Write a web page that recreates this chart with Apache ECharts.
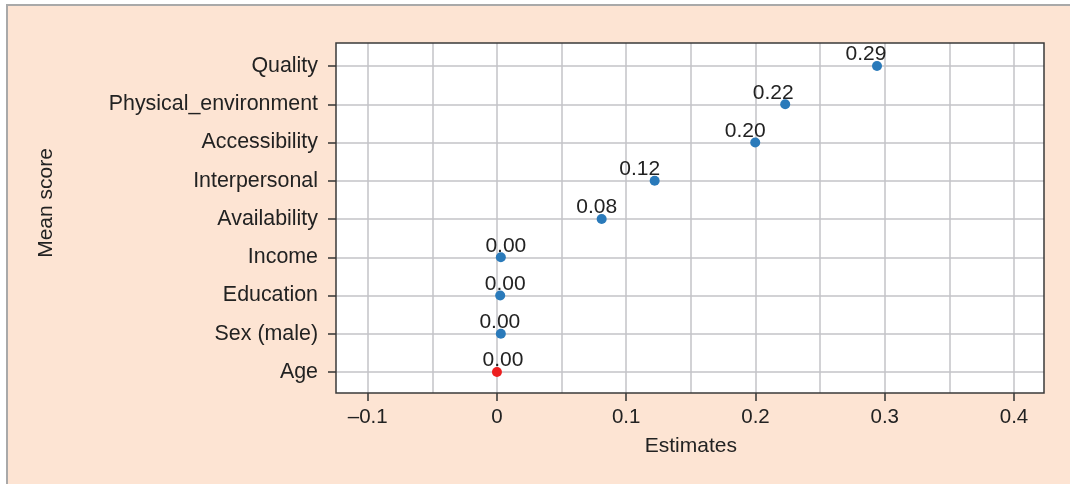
<!DOCTYPE html>
<html>
<head>
<meta charset="utf-8">
<script src="https://cdn.jsdelivr.net/npm/echarts@6/dist/echarts.min.js"></script>
<style>
  html, body { margin: 0; padding: 0; background: #ffffff; }
  #wrap { position: relative; width: 1070px; height: 484px; overflow: hidden; background: #ffffff; }
  #panel {
    position: absolute; left: 6px; top: 4px; right: -4px; bottom: -4px;
    background: #fde4d3; border-left: 2px solid #a9a9a9; border-top: 2px solid #a9a9a9;
  }
  #chart { position: absolute; left: 0; top: 0; width: 1070px; height: 484px; }
</style>
</head>
<body>
<div id="wrap">
  <div id="panel"></div>
  <div id="chart"></div>
</div>
<script>
// Predictors, listed bottom to top
const categories = ['Age', 'Sex (male)', 'Education', 'Income', 'Availability',
                    'Interpersonal', 'Accessibility', 'Physical_environment', 'Quality'];
// Coefficient estimates
const estimates = [0.000, 0.003, 0.0025, 0.003, 0.081, 0.122, 0.1998, 0.223, 0.294];
// The reference predictor drawn in red
const highlighted = ['Age'];
// X tick range and step
const xTickMin = -0.1;
const xTickMax = 0.4;
const xTickStep = 0.1;
// Horizontal nudges that keep the value labels from colliding
const labelShiftX = [6, -1, 5, 5, -5, -15, -10, -12, -11];

const FONT = "'Liberation Sans', Arial, Helvetica, sans-serif";
const TEXT = '#222222';
const GRIDLINE = { color: '#c3c3c7', width: 1.5 };
const TICK = { color: '#333333', width: 1.5 };

// Plot frame and the inner band the categories occupy
const frame = { left: 336, top: 43, width: 708, height: 350 };
const band = { top: 66, height: 306 };
// Horizontal span of the x ticks inside the frame
const tickSpan = { left: 367.7, width: 646.3 };

const chart = echarts.init(document.getElementById('chart'), null, { renderer: 'canvas' });

const seriesData = estimates.map((v, i) => ({
  value: [v, categories[i]],
  itemStyle: { color: highlighted.includes(categories[i]) ? '#ec1f1f' : '#2a7aba', opacity: 1 },
  label: { offset: [labelShiftX[i], -11.5] }
}));

const hiddenValue = (gridIndex) => ({ type: 'value', gridIndex, show: false, min: 0, max: 1 });

chart.setOption({
  animation: false,
  textStyle: { fontFamily: FONT },
  grid: [
    // white plot background
    { left: frame.left, top: frame.top, width: frame.width, height: frame.height,
      show: true, backgroundColor: '#ffffff', borderWidth: 0 },
    // x axis: ticks, labels, vertical grid lines
    { left: tickSpan.left, top: frame.top, width: tickSpan.width, height: frame.height },
    // y axis: category labels and horizontal grid lines
    { left: frame.left, top: band.top, width: frame.width, height: band.height },
    // points
    { left: tickSpan.left, top: band.top, width: tickSpan.width, height: band.height },
    // frame border on top
    { left: frame.left, top: frame.top, width: frame.width, height: frame.height,
      show: true, backgroundColor: 'transparent', borderColor: '#3a3a3a', borderWidth: 1.5, z: 5 }
  ],
  xAxis: [
    hiddenValue(0),
    {
      type: 'value', gridIndex: 1,
      min: xTickMin, max: xTickMax, interval: xTickStep,
      axisLine: { show: false },
      axisTick: { show: true, length: 8, lineStyle: TICK },
      minorTick: { show: false, splitNumber: 2 },
      minorSplitLine: { show: true, lineStyle: GRIDLINE },
      splitLine: { show: true, lineStyle: GRIDLINE },
      axisLabel: {
        fontSize: 20.5, color: TEXT, fontFamily: FONT, margin: 14,
        formatter: (v) => {
          const r = Math.round(v * 10) / 10;
          if (r === 0) return '0';
          return (r < 0 ? '\u2013' : '') + String(Math.abs(r));
        }
      },
      name: 'Estimates', nameLocation: 'middle', nameGap: 43,
      nameTextStyle: { fontSize: 21, color: TEXT, fontFamily: FONT }
    },
    { type: 'value', gridIndex: 2, show: false, min: 0, max: 1 },
    { type: 'value', gridIndex: 3, show: false, min: xTickMin, max: xTickMax },
    hiddenValue(4)
  ],
  yAxis: [
    hiddenValue(0),
    hiddenValue(1),
    {
      type: 'category', gridIndex: 2, data: categories, boundaryGap: false,
      axisLine: { show: false },
      axisTick: { show: true, length: 8, lineStyle: TICK },
      splitLine: { show: true, lineStyle: GRIDLINE },
      axisLabel: { fontSize: 21.4, color: TEXT, fontFamily: FONT, margin: 18, interval: 0 }
    },
    { type: 'category', gridIndex: 3, data: categories, boundaryGap: false, show: false },
    hiddenValue(4)
  ],
  graphic: [{
    type: 'text', x: 46.5, y: 203, rotation: Math.PI / 2,
    style: { text: 'Mean score', font: '21px ' + FONT, fill: TEXT,
             textAlign: 'center', textVerticalAlign: 'middle' }
  }],
  series: [{
    type: 'scatter', xAxisIndex: 3, yAxisIndex: 3,
    symbol: 'circle', symbolSize: 10, z: 3,
    data: seriesData,
    label: {
      show: true, position: 'inside', verticalAlign: 'middle', align: 'center',
      fontSize: 21, color: TEXT, fontFamily: FONT,
      formatter: (p) => p.value[0].toFixed(2)
    }
  }]
});
</script>
</body>
</html>
